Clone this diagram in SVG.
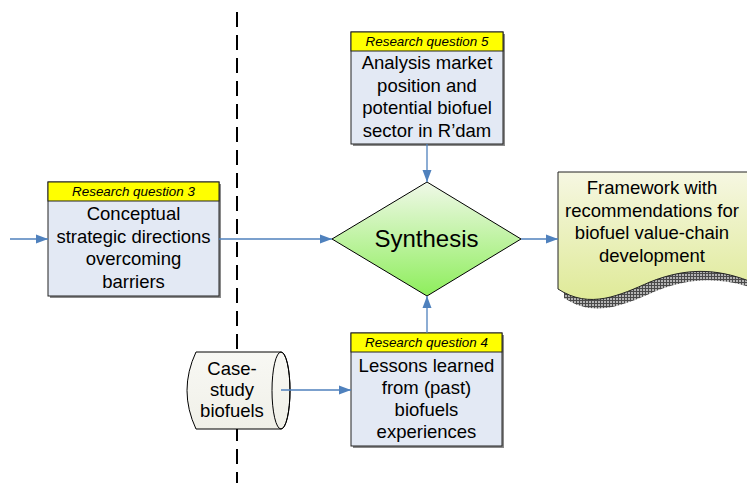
<svg xmlns="http://www.w3.org/2000/svg" width="747" height="483" viewBox="0 0 747 483">
<defs>
<style>
.t{font-family:"Liberation Sans",Arial,sans-serif;font-size:18.5px;fill:#000;text-anchor:middle}
.h{font-family:"Liberation Sans",Arial,sans-serif;font-size:13.4px;font-style:italic;fill:#000;text-anchor:middle}
.box{fill:#e3e9f4;stroke:#222;stroke-width:1}
.hdr{fill:#ffff00;stroke:#222;stroke-width:1}
.sh{fill:#8a8a8a}
.con{stroke:#4f81bd;stroke-width:1.3;fill:none;marker-end:url(#arr)}
</style>
<marker id="arr" markerUnits="userSpaceOnUse" markerWidth="13" markerHeight="11" refX="12" refY="5" orient="auto">
<path d="M0,0.5 L12,5 L0,9.5 Z" fill="#4f81bd"/>
</marker>
<linearGradient id="gd" x1="0" y1="0" x2="0" y2="1">
<stop offset="0" stop-color="#f0f8e8"/>
<stop offset="1" stop-color="#8eee5c"/>
</linearGradient>
<linearGradient id="gdoc" x1="0" y1="0" x2="0" y2="1">
<stop offset="0" stop-color="#f6f7e2"/>
<stop offset="1" stop-color="#dfea98"/>
</linearGradient>
<linearGradient id="gcyl" x1="0" y1="0" x2="0" y2="1">
<stop offset="0" stop-color="#f8f8f4"/>
<stop offset="1" stop-color="#f0f0e8"/>
</linearGradient>
<pattern id="hatch" width="3" height="3" patternUnits="userSpaceOnUse">
<rect width="3" height="3" fill="#b4b4b4"/>
<path d="M0,0.5 H3 M0.5,0 V3" stroke="#4a4a4a" stroke-width="1"/>
</pattern>
</defs>
<rect width="747" height="483" fill="#fff"/>
<line x1="237" y1="12" x2="237" y2="483" stroke="#000" stroke-width="2" stroke-dasharray="15 8"/>
<g id="rq3">
<rect class="sh" x="50" y="184" width="171" height="114"/>
<rect class="box" x="48" y="182" width="171" height="114"/>
<rect class="hdr" x="48" y="182" width="171" height="19"/>
<text class="h" x="133.5" y="196">Research question 3</text>
<text class="t" x="133.5" y="220">Conceptual</text>
<text class="t" x="133.5" y="242.5">strategic directions</text>
<text class="t" x="133.5" y="265">overcoming</text>
<text class="t" x="133.5" y="287.5">barriers</text>
</g>
<g id="rq5">
<rect class="sh" x="353" y="34" width="152" height="112"/>
<rect class="box" x="351" y="32" width="152" height="112"/>
<rect class="hdr" x="351" y="32" width="152" height="19"/>
<text class="h" x="427" y="46">Research question 5</text>
<text class="t" x="427" y="69">Analysis market</text>
<text class="t" x="427" y="91.5">position  and</text>
<text class="t" x="427" y="114">potential biofuel</text>
<text class="t" x="427" y="136.5">sector in R’dam</text>
</g>
<g id="rq4">
<rect class="sh" x="353" y="335" width="151" height="113"/>
<rect class="box" x="351" y="333" width="151" height="113"/>
<rect class="hdr" x="351" y="333" width="151" height="19"/>
<text class="h" x="426.5" y="347">Research question 4</text>
<text class="t" x="426.5" y="372">Lessons learned</text>
<text class="t" x="426.5" y="394">from (past)</text>
<text class="t" x="426.5" y="416">biofuels</text>
<text class="t" x="426.5" y="438">experiences</text>
</g>
<g id="synthesis">
<path d="M427,182 L521,239 L427,296 L332,239 Z" fill="url(#gd)" stroke="#000" stroke-width="1"/>
<text x="426.5" y="247" style="font-family:'Liberation Sans',Arial,sans-serif;font-size:24px;text-anchor:middle">Synthesis</text>
</g>
<g id="framework">
<path d="M564,181 H756 V289 C721,277 691,277 656,291 C626,304 596,319 564,298 Z" fill="url(#hatch)"/>
<path d="M558,172 H749 V281 C715,268 685,268 650,282 C620,295 590,310 558,289 Z" fill="url(#gdoc)" stroke="#222" stroke-width="1"/>
<text class="t" x="652" y="194">Framework with</text>
<text class="t" x="652" y="216.5">recommendations for</text>
<text class="t" x="652" y="239">biofuel value-chain</text>
<text class="t" x="652" y="261.5">development</text>
</g>
<g id="casestudy">
<path d="M196,352 H281 A9,38.5 0 0 1 281,429 H196 Q178,390.5 196,352 Z" fill="url(#gcyl)" stroke="#000" stroke-width="1"/>
<ellipse cx="281" cy="390.5" rx="9" ry="38.5" fill="none" stroke="#000" stroke-width="1"/>
<text class="t" x="232" y="375">Case-</text>
<text class="t" x="232" y="396">study</text>
<text class="t" x="232" y="417">biofuels</text>
</g>
<g id="connectors">
<line class="con" x1="10" y1="239" x2="48" y2="239"/>
<line class="con" x1="219" y1="239" x2="332" y2="239"/>
<line class="con" x1="427" y1="144" x2="427" y2="182"/>
<line class="con" x1="427" y1="333" x2="427" y2="296"/>
<line class="con" x1="521" y1="239" x2="558" y2="239"/>
<line class="con" x1="281" y1="390" x2="351" y2="390"/>
</g>
</svg>
